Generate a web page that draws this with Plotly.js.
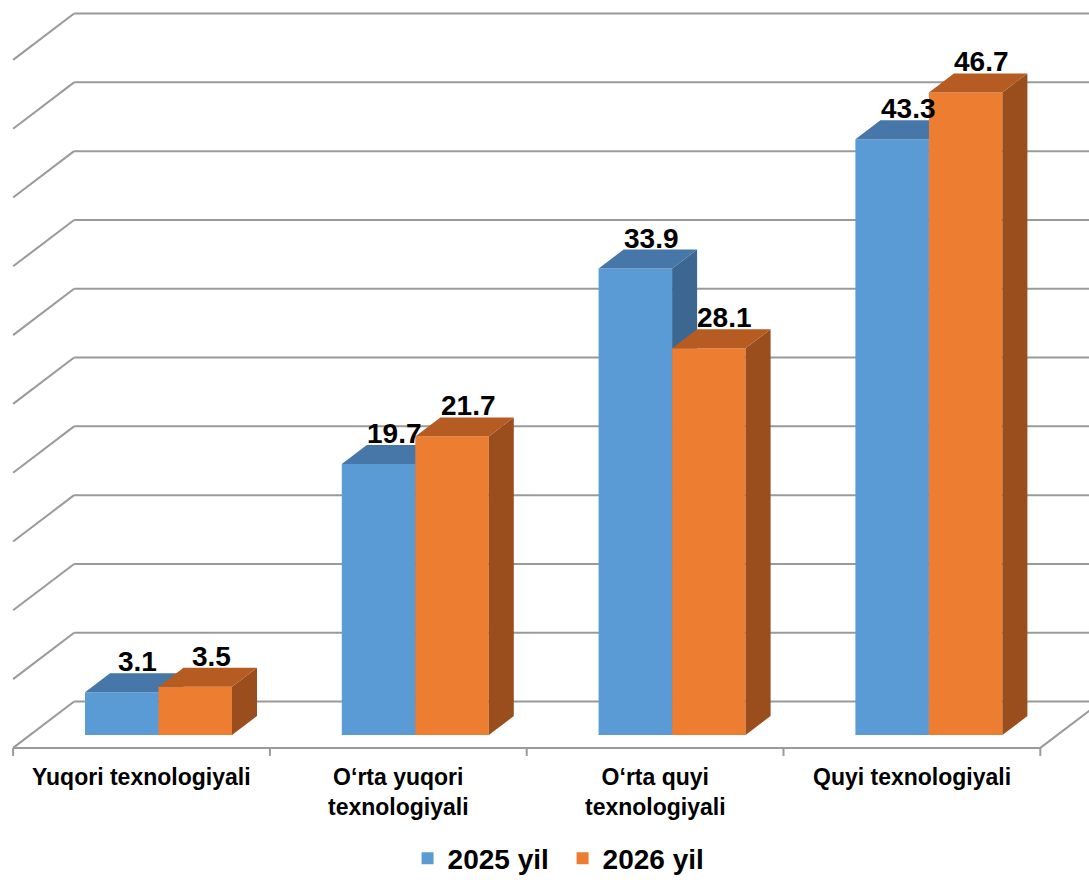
<!DOCTYPE html>
<html>
<head>
<meta charset="utf-8">
<script src="https://cdn.plot.ly/plotly-3.0.1.min.js"></script>
<style>html,body{margin:0;padding:0;background:#fff;}#chart{width:1089px;height:880px;}</style>
</head>
<body>
<div id="chart"></div>
<script>
// ---- data ----
const categories = ['Yuqori texnologiyali', 'O‘rta yuqori<br>texnologiyali', 'O‘rta quyi<br>texnologiyali', 'Quyi texnologiyali'];
const seriesNames = ['2025 yil', '2026 yil'];
const values2025 = [3.1, 19.7, 33.9, 43.3];
const values2026 = [3.5, 21.7, 28.1, 46.7];
const gridTicks = [0, 5, 10, 15, 20, 25, 30, 35, 40, 45, 50];

// ---- geometry / style ----
const W = 1089, H = 880;
const PX0 = 158.5, U = 256.8;      // pixel of first category centre, px per category
const PY0 = 735, S = 13.76;        // pixel of value 0 (bar front), px per unit
const SLOPE = 0.76;                // depth: vertical px per horizontal px
const BAR_DEPTH = 25, FLOOR_FRONT = -17, WALL = 44;
const BW = 73.5 / U;
const FONT = 'Arial, "Liberation Sans", sans-serif';
const GRID = '#9a9a9a';
const colors = {
  front: ['#5B9BD5', '#ED7D31'],
  top:   ['#4677A8', '#B65C23'],
  side:  ['#3C6791', '#9A4E1E']
};

const xRange = [(0 - PX0) / U, (W - PX0) / U];
const yRange = [(PY0 - H) / S, PY0 / S];
const dx = d => d / U;
const dy = d => SLOPE * d / S;

const seriesVals = [values2025, values2026];
const xs = categories.map((c, i) => i);

const traces = [];
const annotations = [];
seriesVals.forEach((vals, s) => {
  const xa = s === 0 ? 'x' : 'x2', ya = s === 0 ? 'y' : 'y2';
  const off = s === 0 ? -BW : 0;
  traces.push({
    type: 'bar', x: xs, y: vals, name: seriesNames[s],
    width: BW, offset: off, xaxis: xa, yaxis: ya,
    marker: {color: colors.front[s], line: {width: 0}},
    hoverinfo: 'y'
  });
  const sideX = [], sideY = [], topX = [], topY = [];
  const ddx = dx(BAR_DEPTH), ddy = dy(BAR_DEPTH);
  vals.forEach((v, i) => {
    const x0 = i + off, x1 = x0 + BW;
    sideX.push(x1, x1, x1 + ddx, x1 + ddx, x1, null);
    sideY.push(0, v, v + ddy, ddy, 0, null);
    topX.push(x0, x1, x1 + ddx, x0 + ddx, x0, null);
    topY.push(v, v, v + ddy, v + ddy, v, null);
    annotations.push({
      xref: 'x', yref: 'y', x: x0 + BW / 2, y: v + ddy, xshift: 16, yshift: -6,
      yanchor: 'bottom', xanchor: 'center', showarrow: false,
      text: v.toFixed(1),
      font: {family: FONT, size: 28, weight: 'bold', color: '#000'}
    });
  });
  traces.push({type: 'scatter', mode: 'none', x: sideX, y: sideY, fill: 'toself',
    fillcolor: colors.side[s], showlegend: false, hoverinfo: 'skip', xaxis: xa, yaxis: ya});
  traces.push({type: 'scatter', mode: 'none', x: topX, y: topY, fill: 'toself',
    fillcolor: colors.top[s], showlegend: false, hoverinfo: 'skip', xaxis: xa, yaxis: ya});
});

// walls, floor and gridlines
const shapes = [];
const line = (x0, y0, x1, y1) => shapes.push({type: 'line', xref: 'x', yref: 'y', layer: 'below',
  x0, y0, x1, y1, line: {color: GRID, width: 2}});
const left = -0.5, right = categories.length - 0.5;
gridTicks.forEach(v => {
  line(left + dx(FLOOR_FRONT), v + dy(FLOOR_FRONT), left + dx(WALL), v + dy(WALL));
  line(left + dx(WALL), v + dy(WALL), right + dx(WALL) + 0.2, v + dy(WALL));
});
// floor front edge and right edge
line(left + dx(FLOOR_FRONT), dy(FLOOR_FRONT), right + dx(FLOOR_FRONT), dy(FLOOR_FRONT));
line(right + dx(FLOOR_FRONT), dy(FLOOR_FRONT), right + dx(WALL), dy(WALL));
// category ticks
for (let k = 0; k <= categories.length; k++) {
  const xt = left + k + dx(FLOOR_FRONT);
  line(xt, dy(FLOOR_FRONT), xt, dy(FLOOR_FRONT) - 8 / S);
}

categories.forEach((c, i) => {
  annotations.push({
    xref: 'x', yref: 'paper', x: i + dx(FLOOR_FRONT), y: (H - 762) / H,
    xanchor: 'center', yanchor: 'top', showarrow: false, text: c, align: 'center',
    font: {family: FONT, size: 23, weight: 'bold', color: '#000'}
  });
});

const axisCommon = {visible: false, fixedrange: true, showgrid: false, zeroline: false};
const layout = {
  width: W, height: H,
  margin: {l: 0, r: 0, t: 0, b: 0, pad: 0, autoexpand: false},
  paper_bgcolor: '#fff', plot_bgcolor: 'rgba(0,0,0,0)',
  xaxis: Object.assign({range: xRange}, axisCommon),
  yaxis: Object.assign({range: yRange}, axisCommon),
  xaxis2: Object.assign({range: xRange, overlaying: 'x'}, axisCommon),
  yaxis2: Object.assign({range: yRange, overlaying: 'y'}, axisCommon),
  showlegend: true,
  legend: {orientation: 'h', x: 0.5166, xanchor: 'center', y: -0.004, yanchor: 'bottom',
    entrywidth: 110, entrywidthmode: 'pixels',
    font: {family: FONT, size: 28, weight: 'bold', color: '#000'}, bgcolor: 'rgba(0,0,0,0)'},
  shapes, annotations
};

Plotly.newPlot('chart', traces, layout, {displayModeBar: false, staticPlot: true});
</script>
</body>
</html>
